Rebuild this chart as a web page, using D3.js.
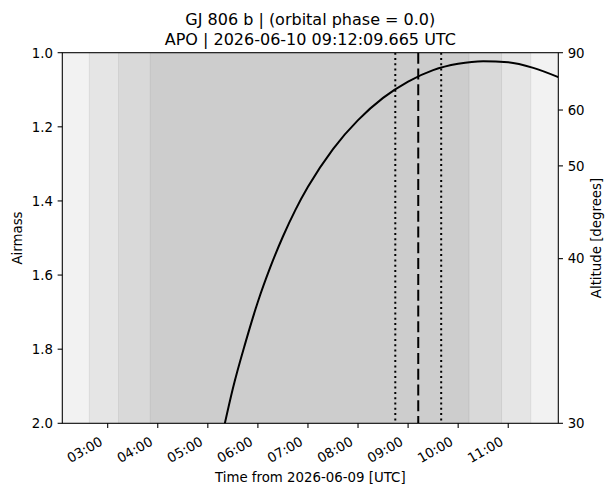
<!DOCTYPE html>
<html>
<head>
<meta charset="utf-8">
<script src="https://cdn.jsdelivr.net/npm/d3@7"></script>
<style>
    body { margin: 0; background: #fff; }
    svg { display: block; font-family: "DejaVu Sans", sans-serif; }
</style>
</head>
<body>
<div id="chart"></div>
<script>
const day = "2026-06-10";

// target track (UTC time, airmass)
const trackTimes = ["05:20", "05:30", "05:45", "06:00", "06:15", "06:30", "06:45", "07:00", "07:30",
    "08:00", "08:30", "09:00", "09:30", "10:00", "10:30", "11:00", "11:30", "12:00"];
const trackAirmass = [2.004, 1.906, 1.783, 1.672, 1.578, 1.496, 1.424, 1.362, 1.260,
    1.182, 1.122, 1.078, 1.047, 1.030, 1.023, 1.026, 1.041, 1.066];

// twilight shading, outermost first
const shadeStarts = ["00:00", "02:38", "03:13", "03:51"];
const shadeEnds = ["14:00", "11:27", "10:52", "10:13"];

const obsTime = "09:12:09.665";
const windowTimes = ["08:44:39", "09:39:39"];

const hourTicks = ["03:00", "04:00", "05:00", "06:00", "07:00", "08:00", "09:00", "10:00", "11:00"];
const airmassTicks = [1.0, 1.2, 1.4, 1.6, 1.8, 2.0];
const altitudeTicks = [90, 60, 50, 40, 30];

const titleLines = ["GJ 806 b | (orbital phase = 0.0)", "APO | 2026-06-10 09:12:09.665 UTC"];
const xTitle = "Time from 2026-06-09 [UTC]";

const width = 615, height = 495;
const margin = { left: 62.3, right: 56.7, top: 52.7, bottom: 71.7 };
const tickLen = 4.67, pad = 4.67;

const toDate = t => new Date(`${day}T${t}${t.length === 5 ? ":00" : ""}Z`);

const x = d3.scaleUtc()
    .domain([toDate("02:05:36"), toDate("12:00:00")])
    .range([margin.left, width - margin.right]);
const y = d3.scaleLinear()
    .domain([1, 2])
    .range([margin.top, height - margin.bottom]);

const svg = d3.select("#chart").append("svg")
    .attr("width", width)
    .attr("height", height);

const plotW = width - margin.left - margin.right;
const plotH = height - margin.top - margin.bottom;

svg.append("clipPath").attr("id", "plot-clip")
    .append("rect")
    .attr("x", margin.left).attr("y", margin.top)
    .attr("width", plotW).attr("height", plotH);

const plot = svg.append("g").attr("clip-path", "url(#plot-clip)");

// stacked translucent spans, like axvspan with alpha
plot.selectAll("rect.shade")
    .data(d3.zip(shadeStarts, shadeEnds))
    .join("rect")
    .attr("class", "shade")
    .attr("x", d => x(toDate(d[0])))
    .attr("width", d => x(toDate(d[1])) - x(toDate(d[0])))
    .attr("y", margin.top - 2)
    .attr("height", plotH + 4)
    .attr("fill", "#000")
    .attr("fill-opacity", 0.052)
    .attr("stroke", "#000")
    .attr("stroke-opacity", 0.07)
    .attr("stroke-width", 1);

// observation window
plot.selectAll("line.window")
    .data(windowTimes)
    .join("line")
    .attr("class", "window")
    .attr("x1", d => x(toDate(d))).attr("x2", d => x(toDate(d)))
    .attr("y1", margin.top).attr("y2", margin.top + plotH)
    .attr("stroke", "#000")
    .attr("stroke-width", 2)
    .attr("stroke-dasharray", "2,3.3");

plot.append("line")
    .attr("x1", x(toDate(obsTime))).attr("x2", x(toDate(obsTime)))
    .attr("y1", margin.top).attr("y2", margin.top + plotH)
    .attr("stroke", "#000")
    .attr("stroke-width", 2)
    .attr("stroke-dasharray", "11,4.8");

const track = d3.zip(trackTimes, trackAirmass);
plot.append("path")
    .datum(track)
    .attr("fill", "none")
    .attr("stroke", "#000")
    .attr("stroke-width", 2)
    .attr("d", d3.line()
        .x(d => x(toDate(d[0])))
        .y(d => y(d[1]))
        .curve(d3.curveMonotoneX));

// frame
svg.append("rect")
    .attr("x", margin.left).attr("y", margin.top)
    .attr("width", plotW).attr("height", plotH)
    .attr("fill", "none")
    .attr("stroke", "#000")
    .attr("stroke-width", 1.07);

const fontSize = "13.33px";
const bottom = margin.top + plotH;

// x ticks, rotated like autofmt_xdate
const xt = svg.append("g").selectAll("g")
    .data(hourTicks)
    .join("g")
    .attr("transform", d => `translate(${x(toDate(d))},0)`);
xt.append("line")
    .attr("y1", bottom).attr("y2", bottom + tickLen)
    .attr("stroke", "#000").attr("stroke-width", 1.07);
xt.append("text")
    .attr("transform", `translate(-4,${bottom + tickLen + pad + 11.5}) rotate(-30)`)
    .attr("text-anchor", "end")
    .attr("font-size", fontSize)
    .attr("fill", "#000")
    .text(d => d);

// left airmass axis
const yl = svg.append("g").selectAll("g")
    .data(airmassTicks)
    .join("g")
    .attr("transform", d => `translate(0,${y(d)})`);
yl.append("line")
    .attr("x1", margin.left - tickLen).attr("x2", margin.left)
    .attr("stroke", "#000").attr("stroke-width", 1.07);
yl.append("text")
    .attr("x", margin.left - tickLen - pad)
    .attr("dy", "0.36em")
    .attr("text-anchor", "end")
    .attr("font-size", fontSize)
    .text(d => d.toFixed(1));

// right altitude axis, placed at airmass = 1/sin(alt)
const right = width - margin.right;
const yr = svg.append("g").selectAll("g")
    .data(altitudeTicks)
    .join("g")
    .attr("transform", d => `translate(0,${y(1 / Math.sin(d * Math.PI / 180))})`);
yr.append("line")
    .attr("x1", right).attr("x2", right + tickLen)
    .attr("stroke", "#000").attr("stroke-width", 1.07);
yr.append("text")
    .attr("x", right + tickLen + pad)
    .attr("dy", "0.36em")
    .attr("font-size", fontSize)
    .text(d => d);

// axis titles
const midY = margin.top + plotH / 2;
svg.append("text")
    .attr("transform", `translate(22,${midY}) rotate(-90)`)
    .attr("text-anchor", "middle")
    .attr("font-size", fontSize)
    .text("Airmass");
svg.append("text")
    .attr("transform", `translate(601,${midY}) rotate(-90)`)
    .attr("text-anchor", "middle")
    .attr("font-size", fontSize)
    .text("Altitude [degrees]");
svg.append("text")
    .attr("x", margin.left + plotW / 2)
    .attr("y", 481.5)
    .attr("text-anchor", "middle")
    .attr("font-size", fontSize)
    .text(xTitle);

svg.append("g").selectAll("text")
    .data(titleLines)
    .join("text")
    .attr("x", margin.left + plotW / 2)
    .attr("y", (d, i) => 25 + i * 20)
    .attr("text-anchor", "middle")
    .attr("font-size", "16px")
    .text(d => d);
</script>
</body>
</html>
